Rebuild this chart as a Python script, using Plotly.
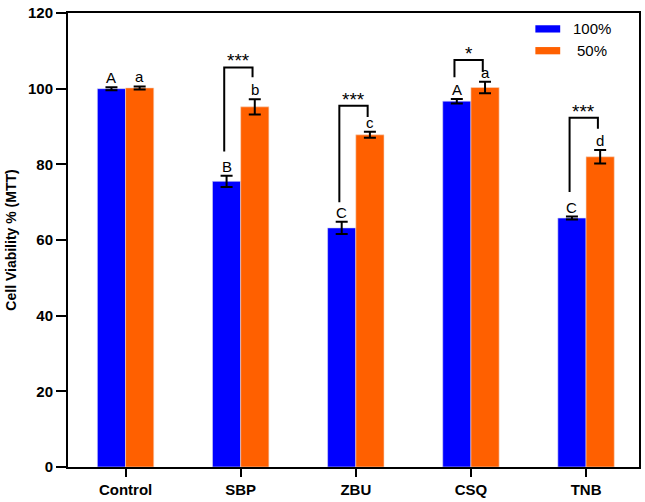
import plotly.graph_objects as go

categories = ["Control", "SBP", "ZBU", "CSQ", "TNB"]
series_names = ["100%", "50%"]
vals_100 = [100.0, 75.5, 63.2, 96.7, 65.8]
err_100 = [0.4, 1.5, 1.6, 0.6, 0.4]
vals_50 = [100.2, 95.2, 87.8, 100.3, 82.0]
err_50 = [0.4, 2.0, 0.8, 1.5, 1.8]
letters_100 = ["A", "B", "C", "A", "C"]
letters_50 = ["a", "b", "c", "a", "d"]
sig_labels = ["", "***", "***", "*", "***"]
# bracket: (top y, left-leg bottom y, right-leg bottom y)
bracket_top = [None, 105.6, 95.5, 107.6, 92.3]
bracket_left_bottom = [None, 83.4, 70.0, 103.0, 72.7]
bracket_right_bottom = [None, 103.0, 92.5, 104.5, 89.4]

BLUE = "#0000FF"
ORANGE = "#FF6000"
x = list(range(len(categories)))
off = 0.123
FONT = "Liberation Sans, Arial"

fig = go.Figure()
fig.add_trace(go.Bar(x=x, y=vals_100, name=series_names[0], marker_color=BLUE,
                     marker_line=dict(color="#d9d9ef", width=0.6),
                     error_y=dict(type="data", array=err_100, color="black", thickness=2, width=6)))
fig.add_trace(go.Bar(x=x, y=vals_50, name=series_names[1], marker_color=ORANGE,
                     marker_line=dict(color="#f3d6c6", width=0.6),
                     error_y=dict(type="data", array=err_50, color="black", thickness=2, width=6)))

annotations = []
shapes = []
lf = dict(family=FONT, size=15, color="black")
for i in x:
    annotations.append(dict(x=i - off, y=vals_100[i] + err_100[i], text=letters_100[i], showarrow=False,
                            xref="x", yref="y", yanchor="bottom", yshift=-1, font=lf))
    annotations.append(dict(x=i + off, y=vals_50[i] + err_50[i], text=letters_50[i], showarrow=False,
                            xref="x", yref="y", yanchor="bottom", yshift=-1, font=lf))
    if bracket_top[i] is not None:
        xl, xr = i - off - 0.02, i + off - 0.02
        shapes.append(dict(type="path", xref="x", yref="y",
                           path=f"M {xl},{bracket_left_bottom[i]} L {xl},{bracket_top[i]} L {xr},{bracket_top[i]} L {xr},{bracket_right_bottom[i]}",
                           line=dict(color="black", width=2)))
        annotations.append(dict(x=i - 0.02, y=bracket_top[i], text=sig_labels[i], showarrow=False,
                                xref="x", yref="y", yanchor="bottom", yshift=-6,
                                font=dict(family=FONT, size=19, color="black")))

# custom legend
leg_y = [0.965, 0.917]
leg_cols = [BLUE, ORANGE]
for k in range(2):
    shapes.append(dict(type="rect", xref="paper", yref="paper", x0=0.8185, x1=0.862,
                       y0=leg_y[k] - 0.008, y1=leg_y[k] + 0.008, fillcolor=leg_cols[k], line=dict(width=0)))
    annotations.append(dict(x=0.918, y=leg_y[k], xref="paper", yref="paper", text=series_names[k],
                            showarrow=False, xanchor="center", yanchor="middle",
                            font=dict(family=FONT, size=15, color="black")))

fig.update_layout(
    width=645, height=502,
    margin=dict(l=68, r=4, t=10, b=33),
    paper_bgcolor="white", plot_bgcolor="white",
    barmode="group", bargap=0.51, bargroupgap=0,
    showlegend=False,
    annotations=annotations, shapes=shapes,
    font=dict(family=FONT, color="black"),
)
fig.update_xaxes(range=[-0.5, 4.46], tickvals=x, ticktext=categories, showline=True, linecolor="black",
                 linewidth=2, mirror=True, ticks="outside", ticklen=8, tickwidth=2, tickcolor="black",
                 showgrid=False, zeroline=False,
                 tickfont=dict(family=FONT, size=15, color="black", weight="bold"))
fig.update_yaxes(range=[0, 120], tickvals=[0, 20, 40, 60, 80, 100, 120], showline=True, linecolor="black",
                 linewidth=2, mirror=True, ticks="outside", ticklen=10, tickwidth=2, tickcolor="black",
                 showgrid=False, zeroline=False,
                 tickfont=dict(family=FONT, size=15, color="black", weight="bold"),
                 title=dict(text="Cell Viability % (MTT)", standoff=8,
                            font=dict(family=FONT, size=14, color="black", weight="bold")))

fig.write_html("out.html")
